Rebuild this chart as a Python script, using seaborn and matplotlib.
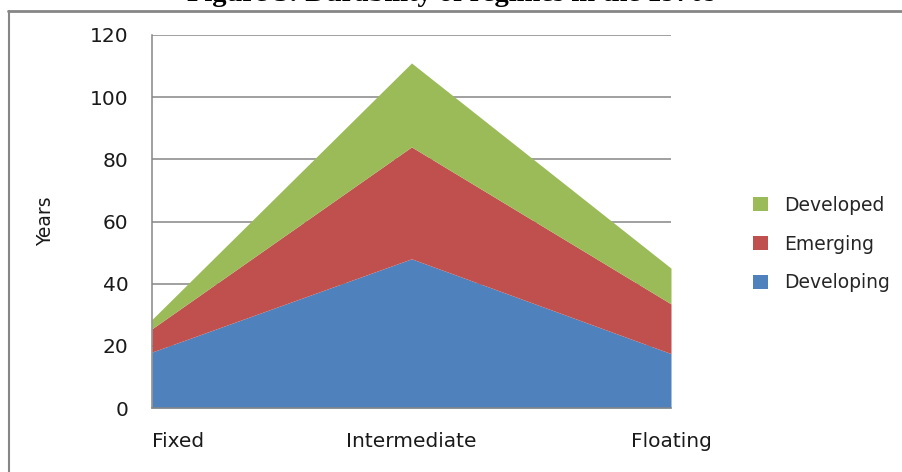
import matplotlib
matplotlib.use("Agg")
import matplotlib.pyplot as plt
from matplotlib.lines import Line2D
from matplotlib.patches import Patch
import seaborn as sns
import pandas as pd

# Durability of exchange-rate regimes, in years
regimes = ["Fixed", "Intermediate", "Floating"]
developing = [18, 48, 17.5]
emerging = [7.5, 36, 16]
developed = [3, 27, 11.5]
series_names = ["Developing", "Emerging", "Developed"]
y_ticks = [0, 20, 40, 60, 80, 100, 120]

colors = {"Developing": "#4F81BD", "Emerging": "#C0504D", "Developed": "#9BBB59"}
grey = "#868686"
ink = "#1a1a1a"

sns.set_theme(style="white")
plt.rcParams["font.family"] = ["DejaVu Sans"]

df = pd.DataFrame({"Regime": regimes, "Developing": developing,
                   "Emerging": emerging, "Developed": developed})
xpos = list(range(len(regimes)))

fig = plt.figure(figsize=(9.03, 4.72), dpi=100)
ax = fig.add_axes([152 / 903, 1 - 408 / 472, (671 - 152) / 903, (408 - 35) / 472])

ax.stackplot(xpos, [df[s] for s in series_names],
             colors=[colors[s] for s in series_names], linewidth=0, zorder=2)

ax.set_xlim(0, len(regimes) - 1)
ax.set_ylim(0, 120)
ax.set_yticks(y_ticks)
ax.set_yticklabels([str(v) for v in y_ticks], fontsize=14.5, color=ink)
ax.yaxis.grid(True, color=grey, linewidth=1.1, zorder=1)
ax.xaxis.grid(False)
ax.set_axisbelow(True)
ax.tick_params(axis="y", length=0, pad=17)
ax.tick_params(axis="x", length=0, pad=17)

ax.set_xticks(xpos)
ax.set_xticklabels(regimes, fontsize=14.5, color=ink)
ax.get_xticklabels()[0].set_horizontalalignment("left")

for side in ["top", "right"]:
    ax.spines[side].set_visible(False)
for side in ["left", "bottom"]:
    ax.spines[side].set_color(grey)
    ax.spines[side].set_linewidth(1.1)

ax.set_ylabel("Years", fontsize=13.5, color=ink)
ax.yaxis.set_label_coords((55 - 152) / 519, 0.5)

handles = [Patch(facecolor=colors[s], edgecolor="none") for s in reversed(series_names)]
fig.legend(handles, list(reversed(series_names)), loc="center left",
           bbox_to_anchor=(753 / 903, 1 - 244 / 472), frameon=False,
           fontsize=13.5, borderpad=0, borderaxespad=0, handlelength=0.8,
           handleheight=0.8, handletextpad=0.85, labelspacing=1.05)

# chart frame
fig.add_artist(Line2D([8 / 903, 1.0], [1 - 10.5 / 472] * 2, color=grey,
                      linewidth=2, transform=fig.transFigure))
fig.add_artist(Line2D([8.5 / 903] * 2, [0.0, 1 - 10.5 / 472], color=grey,
                      linewidth=1.5, transform=fig.transFigure))

# page caption above the chart
fig.text(0.5, 1 - 1 / 472, "Figure 3: Durability of regimes in the 1970s",
         ha="center", va="baseline", fontsize=20.5, fontweight="bold",
         family=["Liberation Serif", "DejaVu Serif"], color="black")

fig.savefig("out.png", dpi=100, facecolor="white")
